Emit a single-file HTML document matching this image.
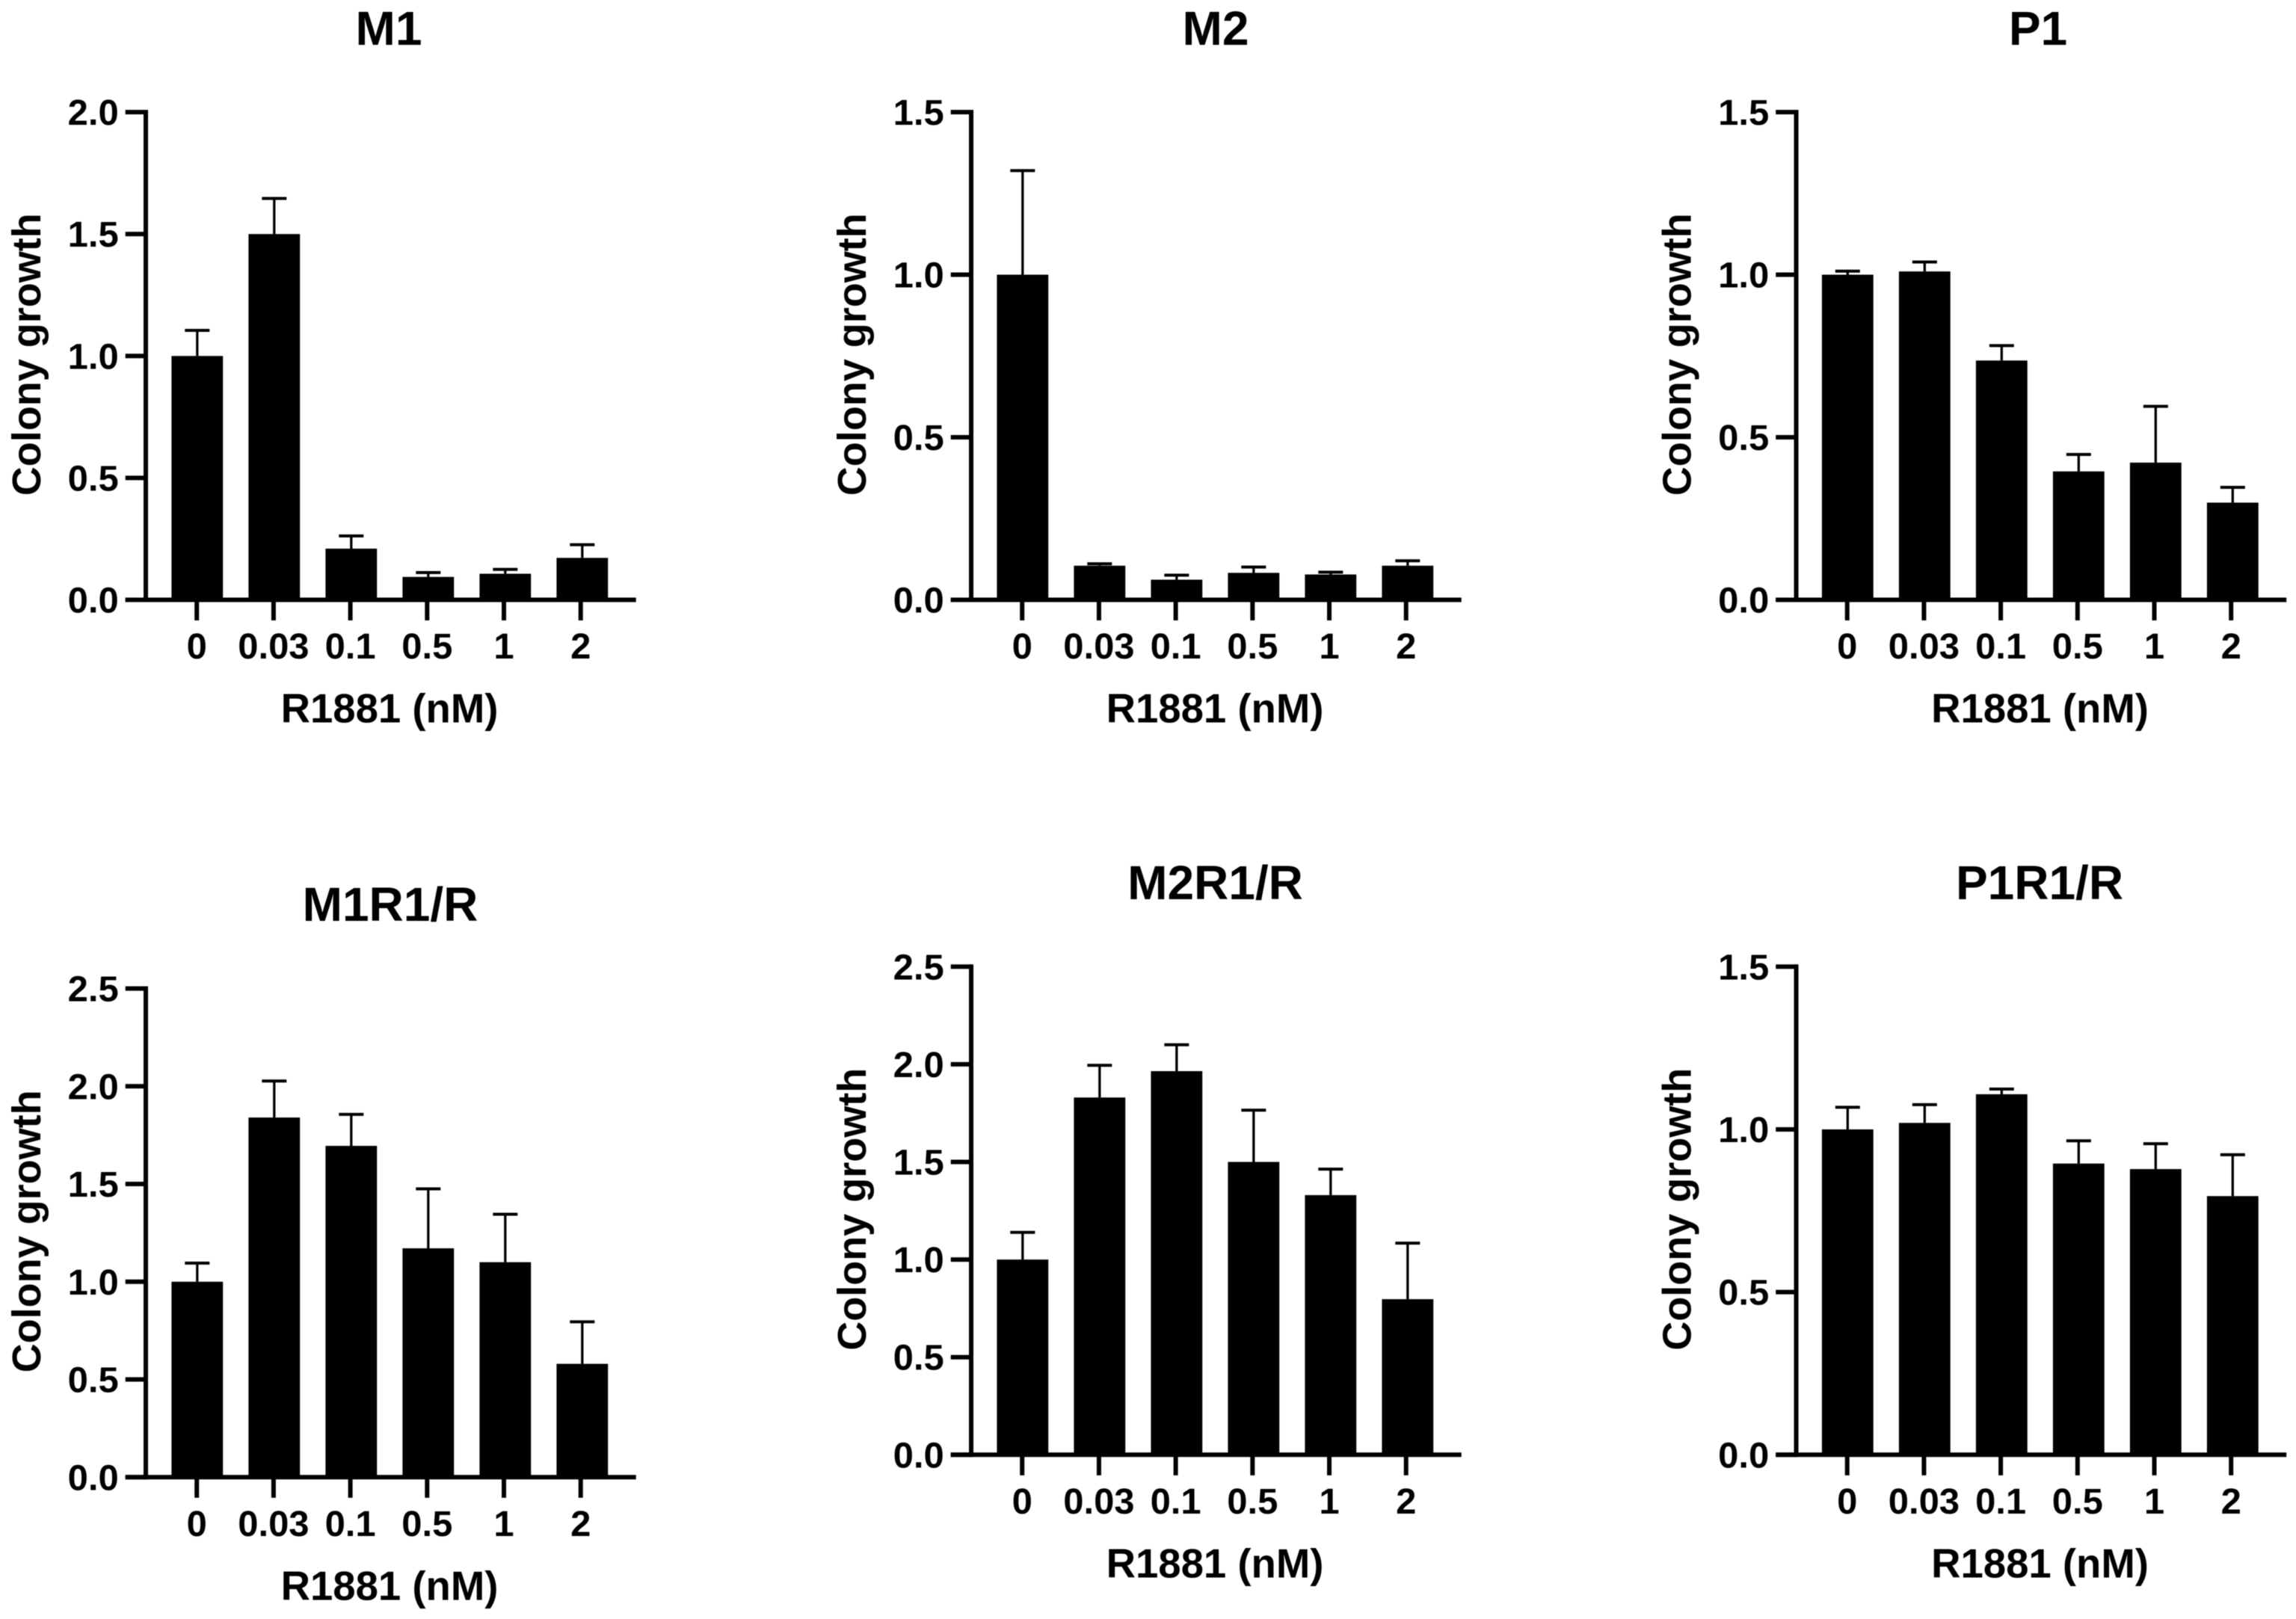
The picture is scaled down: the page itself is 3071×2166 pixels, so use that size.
<!DOCTYPE html>
<html lang="en">
<head>
<meta charset="utf-8">
<title>Colony growth vs R1881</title>
<style>
html,body{margin:0;padding:0;background:#fff;width:3071px;height:2166px;overflow:hidden}
svg{display:block;filter:blur(0.6px)}
text{font-family:"Liberation Sans",Arial,sans-serif;font-weight:700;fill:#000}
</style>
</head>
<body>
<svg id="figure" xmlns="http://www.w3.org/2000/svg" width="3071" height="2166" viewBox="0 0 3071 2166"></svg>
<script>
const categories = ['0', '0.03', '0.1', '0.5', '1', '2'];

const m1Values = [1.0, 1.5, 0.21, 0.094, 0.107, 0.172];
const m1ErrorTops = [1.105, 1.646, 0.262, 0.112, 0.125, 0.226];
const m1Ticks = ['0.0', '0.5', '1.0', '1.5', '2.0'];

const m2Values = [1.0, 0.105, 0.062, 0.083, 0.078, 0.105];
const m2ErrorTops = [1.32, 0.111, 0.076, 0.101, 0.085, 0.12];
const m2Ticks = ['0.0', '0.5', '1.0', '1.5'];

const p1Values = [1.0, 1.01, 0.736, 0.395, 0.422, 0.299];
const p1ErrorTops = [1.011, 1.039, 0.782, 0.447, 0.595, 0.346];
const p1Ticks = ['0.0', '0.5', '1.0', '1.5'];

const m1r1Values = [1.0, 1.84, 1.695, 1.171, 1.1, 0.58];
const m1r1ErrorTops = [1.095, 2.027, 1.856, 1.475, 1.345, 0.795];
const m1r1Ticks = ['0.0', '0.5', '1.0', '1.5', '2.0', '2.5'];

const m2r1Values = [1.0, 1.83, 1.965, 1.5, 1.33, 0.797];
const m2r1ErrorTops = [1.139, 1.995, 2.1, 1.765, 1.463, 1.084];
const m2r1Ticks = ['0.0', '0.5', '1.0', '1.5', '2.0', '2.5'];

const p1r1Values = [1.0, 1.02, 1.108, 0.895, 0.878, 0.795];
const p1r1ErrorTops = [1.068, 1.076, 1.124, 0.965, 0.956, 0.922];
const p1r1Ticks = ['0.0', '0.5', '1.0', '1.5'];

const panels = [
  {id:'m1', title:'M1', values:m1Values, errors:m1ErrorTops, ticks:m1Ticks, axisX:195, top:150, zero:802.5, titleX:520, titleY:60},
  {id:'m2', title:'M2', values:m2Values, errors:m2ErrorTops, ticks:m2Ticks, axisX:1299, top:150, zero:802.5, titleX:1626, titleY:60},
  {id:'p1', title:'P1', values:p1Values, errors:p1ErrorTops, ticks:p1Ticks, axisX:2402.5, top:150, zero:802.5, titleX:2726, titleY:60},
  {id:'m1r1', title:'M1R1/R', values:m1r1Values, errors:m1r1ErrorTops, ticks:m1r1Ticks, axisX:195, top:1322.5, zero:1976.3, titleX:522, titleY:1232},
  {id:'m2r1', title:'M2R1/R', values:m2r1Values, errors:m2r1ErrorTops, ticks:m2r1Ticks, axisX:1299, top:1293.3, zero:1946.3, titleX:1625.5, titleY:1203},
  {id:'p1r1', title:'P1R1/R', values:p1r1Values, errors:p1r1ErrorTops, ticks:p1r1Ticks, axisX:2402.5, top:1293.3, zero:1946.3, titleX:2728, titleY:1203}
];

const NS = 'http://www.w3.org/2000/svg';
const svg = document.getElementById('figure');
const BAR_STEP = 103, BAR_W = 68.8, BAR_OFFSET = 68.8;
const TICK_STEP = 102.7, TICK_OFFSET = 68.2;
const AXIS_W = 6, ERR_W = 3.3, CAP_H = 4, CAP_W = 33;

function line(parent, x1, y1, x2, y2, w) {
  const el = document.createElementNS(NS, 'line');
  el.setAttribute('x1', x1);
  el.setAttribute('y1', y1);
  el.setAttribute('x2', x2);
  el.setAttribute('y2', y2);
  el.setAttribute('stroke', '#000');
  el.setAttribute('stroke-width', w);
  parent.appendChild(el);
  return el;
}
function label(parent, x, y, str, size, anchor, sx) {
  const el = document.createElementNS(NS, 'text');
  el.setAttribute('transform', 'translate(' + x + ',' + y + ') scale(' + sx + ',1)');
  el.setAttribute('font-size', size);
  el.setAttribute('text-anchor', anchor);
  el.textContent = str;
  parent.appendChild(el);
  return el;
}

panels.forEach(function (p) {
  const g = document.createElementNS(NS, 'g');
  
  
  svg.appendChild(g);

  const yMax = Number(p.ticks[p.ticks.length - 1]);
  const yScale = function (v) { return p.zero - (v / yMax) * (p.zero - p.top); };
  const barX = function (i) { return p.axisX + BAR_OFFSET + i * BAR_STEP; };
  const tickX = function (i) { return p.axisX + TICK_OFFSET + i * TICK_STEP; };
  const left = p.axisX - 27.3, right = p.axisX + 655.7;

  // bars + error bars
  p.values.forEach(function (v, i) {
    const cx = barX(i);
    const errX = line(g, cx, yScale(v), cx, yScale(p.errors[i]), ERR_W);
    
    
    const cap = line(g, cx - CAP_W / 2, yScale(p.errors[i]), cx + CAP_W / 2, yScale(p.errors[i]), CAP_H);
    
    
    const bar = document.createElementNS(NS, 'rect');
    bar.setAttribute('x', cx - BAR_W / 2);
    bar.setAttribute('y', yScale(v));
    bar.setAttribute('width', BAR_W);
    bar.setAttribute('height', p.zero - yScale(v));
    bar.setAttribute('fill', '#000');
    
    
    g.appendChild(bar);
  });

  // y axis
  const yAxis = line(g, p.axisX, p.top - AXIS_W / 2, p.axisX, p.zero + AXIS_W / 2, AXIS_W);
  
  
  p.ticks.forEach(function (t) {
    const y = yScale(Number(t));
    const tick = line(g, left, y, p.axisX, y, AXIS_W);
    
    
    const tl = label(g, left - 9, y + 17, t, 48, 'end', 1.02);
    
    
  });

  // x axis
  const xAxis = line(g, left, p.zero, right, p.zero, AXIS_W);
  
  
  categories.forEach(function (c, i) {
    const cx = tickX(i);
    const tick = line(g, cx, p.zero, cx, p.zero + 27.5, AXIS_W);
    
    
    const tl = label(g, cx, p.zero + 78.5, c, 48, 'middle', 1.02);
    
    
  });

  // titles
  const xt = label(g, p.axisX + 326, p.zero + 164, 'R1881 (nM)', 54.5, 'middle', 1);
  
  

  const yt = document.createElementNS(NS, 'text');
  yt.setAttribute('transform', 'translate(' + (p.axisX - 141) + ',' + ((p.top + p.zero) / 2 - 2) + ') rotate(-90)');
  yt.setAttribute('font-size', 54);
  yt.setAttribute('text-anchor', 'middle');
  yt.textContent = 'Colony growth';
  
  
  g.appendChild(yt);

  const tt = label(g, p.titleX, p.titleY, p.title, 64, 'middle', 1);
  
  
});
</script>
</body>
</html>
